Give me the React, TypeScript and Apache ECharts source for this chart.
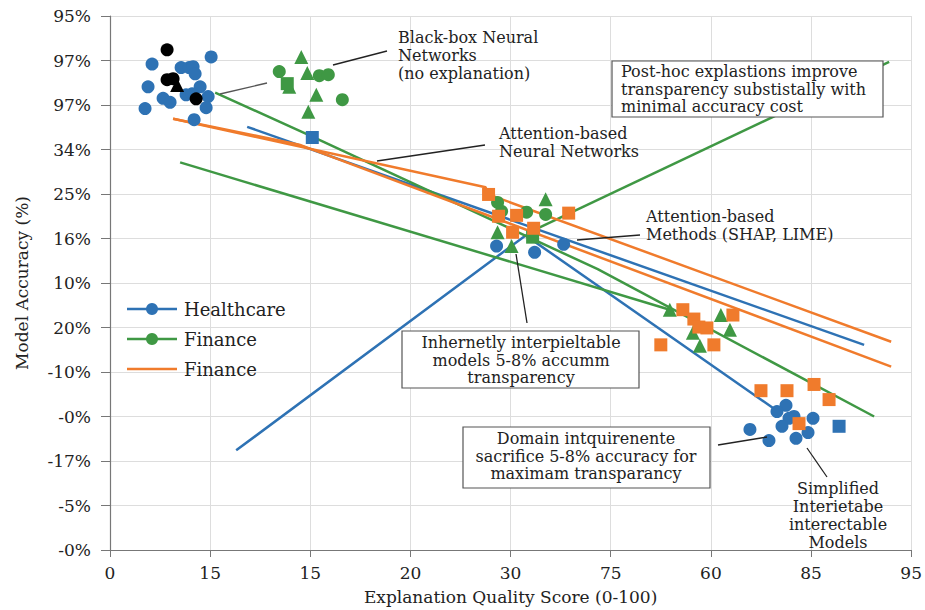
import React, { useEffect, useRef } from "react";
import * as echarts from "echarts";

// Axis tick labels (positions are index-based; labels as printed)
const xTickLabels = ["0", "15", "15", "20", "30", "75", "60", "85", "95"];
const yTickLabels = ["-0%", "-5%", "-17%", "-0%", "-10%", "20%", "10%", "16%", "25%", "34%", "97%", "97%", "95%"];

// Scatter points [x, y] in axis units
const healthcareBlackBox = [[0.42, 10.92], [0.71, 10.84], [0.79, 10.84], [0.83, 10.86], [0.85, 10.7], [1.01, 11.08], [0.38, 10.41], [0.9, 10.41], [0.53, 10.15], [0.6, 10.06], [0.76, 10.23], [0.82, 10.25], [0.98, 10.19], [0.35, 9.92], [0.96, 9.94], [0.84, 9.67]];
const healthcareAttention = [[3.86, 6.83], [4.24, 6.69], [4.53, 6.87]];
const healthcareSimplified = [[6.75, 3.25], [6.66, 3.11], [6.83, 3.0], [6.78, 2.96], [7.02, 2.96], [6.71, 2.78], [6.39, 2.71], [6.58, 2.46], [6.85, 2.51], [6.97, 2.64]];
const blackCircles = [[0.57, 11.24], [0.57, 10.57], [0.63, 10.59], [0.86, 10.14]];
const blackTriangles = [[0.67, 10.45]];
const financeCircles = [[1.69, 10.75], [2.09, 10.66], [2.18, 10.68], [2.32, 10.12], [3.87, 7.81], [3.91, 7.61], [4.16, 7.59], [4.35, 7.54]];
const financeTriangles = [[1.79, 10.41], [1.91, 11.08], [1.97, 10.72], [2.06, 10.23], [1.98, 9.85], [4.35, 7.88], [3.87, 7.14], [4.01, 6.83], [5.59, 5.4], [5.82, 4.88], [5.89, 4.59], [6.1, 5.28], [6.19, 4.95]];
const financeSquares = [[1.77, 10.48], [4.22, 7.03]];
const orangeSquares = [[3.78, 7.99], [3.88, 7.5], [4.06, 7.52], [4.58, 7.57], [4.02, 7.14], [4.23, 7.23], [5.72, 5.4], [5.83, 5.19], [5.88, 5.01], [5.96, 4.99], [6.03, 4.61], [5.5, 4.61], [6.22, 5.28], [6.5, 3.58], [6.76, 3.58], [7.03, 3.72], [7.18, 3.38], [6.88, 2.84]];
const blueSquares = [[2.02, 9.27], [7.28, 2.78]];

// Trend lines
const healthcareTrend = [[1.37, 9.51], [7.53, 4.61]];
const healthcareTradeoff = [[1.26, 2.24], [4.15, 7.07], [6.66, 3.13]];
const financeTrend = [[1.05, 10.28], [2.02, 9.29], [4.87, 6.31], [7.63, 3.0]];
const financeBaseline = [[0.7, 8.71], [5.59, 5.4]];
const financePosthoc = [[4.27, 7.23], [7.78, 10.97]];
const orangeTrendA = [[0.63, 9.69], [3.75, 8.15], [3.78, 7.99], [7.8, 4.68]];
const orangeTrendB = [[0.63, 9.69], [1.89, 9.11], [7.8, 4.12]];

const BLUE = "#2e72b4";
const GREEN = "#3f9844";
const ORANGE = "#f07b2c";
const FONT = '"DejaVu Serif", "Liberation Serif", serif';
const TXT = "#222";

const hGridValues = [12, 8, 6, 3];

export default function App() {
  const ref = useRef<HTMLDivElement>(null);
  useEffect(() => {
    if (!ref.current) return;
    const chart = echarts.init(ref.current, null, { renderer: "svg" });

    const lineSeries = (name: string, data: number[][], color: string) => ({
      name,
      type: "line",
      data,
      symbol: "none",
      z: 2,
      lineStyle: { color, width: 2.5 },
      itemStyle: { color },
      silent: true,
    });
    const scatter = (name: string, data: number[][], color: string, symbol: string, size: number) => ({
      name,
      type: "scatter",
      data,
      symbol,
      symbolSize: size,
      z: 3,
      itemStyle: { color, opacity: 1 },
      silent: true,
    });

    const arrows = [
      { from: [387, 51], to: [333, 65], c: "#222" },
      { from: [220, 94], to: [267, 83], c: "#555" },
      { from: [485, 145], to: [377, 161], c: "#222" },
      { from: [640, 235], to: [577, 240], c: "#222" },
      { from: [527, 323], to: [516, 254], c: "#222" },
      { from: [718, 445], to: [767, 437], c: "#222" },
      { from: [827, 477], to: [807, 448], c: "#222" },
    ];

    const text = (t: string, x: number, y: number, align: string, size = 16, lh = 18) => ({
      type: "text",
      x,
      y,
      z: 110,
      silent: true,
      style: { text: t, font: `${size}px ${FONT}`, fill: TXT, align, verticalAlign: "top", lineHeight: lh },
    });
    const box = (x: number, y: number, w: number, h: number) => ({
      type: "rect",
      z: 105,
      silent: true,
      shape: { x, y, width: w, height: h },
      style: { fill: "#fff", stroke: "#555", lineWidth: 1.2 },
    });
    const legendRow = (label: string, color: string, y: number, marker: boolean) => {
      const els: any[] = [
        { type: "line", z: 110, shape: { x1: 127, y1: y, x2: 177, y2: y }, style: { stroke: color, lineWidth: 2.5 } },
      ];
      if (marker) els.push({ type: "circle", z: 111, shape: { cx: 152, cy: y, r: 6 }, style: { fill: color } });
      els.push(text(label, 184, y - 10, "left", 18, 20));
      return els;
    };

    chart.setOption({
      animation: false,
      grid: { left: 110, right: 10, top: 16, bottom: 58 },
      xAxis: {
        type: "value",
        min: 0,
        max: 8,
        interval: 1,
        name: "Explanation Quality Score (0-100)",
        nameLocation: "middle",
        nameGap: 38,
        nameTextStyle: { fontFamily: FONT, fontSize: 17, color: TXT },
        axisLine: { show: true, lineStyle: { color: "#777", width: 1.2 } },
        axisTick: { show: true, length: 7, lineStyle: { color: "#777" } },
        axisLabel: {
          fontFamily: FONT,
          fontSize: 17,
          color: TXT,
          margin: 14,
          formatter: (v: number) => xTickLabels[Math.round(v)] ?? "",
        },
        splitLine: {
          show: true,
          interval: (_i: number, v: any) => Number(v) % 2 === 0 && Number(v) > 0,
          lineStyle: { color: "#ddd", width: 1 },
        },
      },
      yAxis: {
        type: "value",
        min: 0,
        max: 12,
        interval: 1,
        name: "Model Accuracy (%)",
        nameLocation: "middle",
        nameGap: 80,
        nameTextStyle: { fontFamily: FONT, fontSize: 17, color: TXT },
        axisLine: { show: true, lineStyle: { color: "#777", width: 1.2 } },
        axisTick: { show: true, length: 9, lineStyle: { color: "#777" } },
        axisLabel: {
          fontFamily: FONT,
          fontSize: 17,
          color: TXT,
          margin: 19,
          formatter: (v: number) => yTickLabels[Math.round(v)] ?? "",
        },
        splitLine: {
          show: true,
          interval: (_i: number, v: any) => hGridValues.includes(Number(v)),
          lineStyle: { color: "#ddd", width: 1 },
        },
      },
      series: [
        lineSeries("Healthcare trend", healthcareTrend, BLUE),
        lineSeries("Healthcare trade-off", healthcareTradeoff, BLUE),
        lineSeries("Finance trend", financeTrend, GREEN),
        lineSeries("Finance baseline", financeBaseline, GREEN),
        lineSeries("Finance post-hoc", financePosthoc, GREEN),
        lineSeries("Finance (orange) A", orangeTrendA, ORANGE),
        lineSeries("Finance (orange) B", orangeTrendB, ORANGE),
        scatter("Healthcare", [...healthcareBlackBox, ...healthcareAttention, ...healthcareSimplified], BLUE, "circle", 13),
        scatter("Healthcare squares", blueSquares, BLUE, "rect", 13),
        scatter("Finance", financeCircles, GREEN, "circle", 13),
        scatter("Finance triangles", financeTriangles, GREEN, "triangle", 14),
        scatter("Finance squares", financeSquares, GREEN, "rect", 13),
        scatter("Finance (orange)", orangeSquares, ORANGE, "rect", 13),
        scatter("Black-box", blackCircles, "#000", "circle", 13),
        {
          ...scatter("Black-box triangles", blackTriangles, "#000", "triangle", 14),
          markLine: {
            silent: true,
            symbol: ["none", "arrow"],
            symbolSize: [0, 9],
            label: { show: false },
            z: 120,
            data: arrows.map((a) => [
              { x: a.from[0], y: a.from[1], lineStyle: { color: a.c, width: 1.3, type: "solid" } },
              { x: a.to[0], y: a.to[1] },
            ]),
          },
        },
      ],
      graphic: [
        text("Black-box Neural\nNetworks\n(no explanation)", 398, 28, "left"),
        text("Attention-based\nNeural Networks", 499, 124, "left"),
        box(612, 61, 271, 56),
        text("Post-hoc explastions improve\ntransparency substistally with\nminimal accuracy cost", 621, 63, "left", 16, 17.5),
        text("Attention-based\nMethods (SHAP, LIME)", 646, 207, "left"),
        box(402, 331, 237, 57),
        text("Inhernetly interpieltable\nmodels 5-8% accumm\ntransparency", 521, 334, "center", 16, 17.5),
        box(463, 427, 247, 61),
        text("Domain intquirenente\nsacrifice 5-8% accuracy for\nmaximam transparancy", 586, 430, "center", 16, 17.5),
        text("Simplified\nInterietabe\ninterectable\nModels", 838, 479, "center", 16, 18),
        ...legendRow("Healthcare", BLUE, 309, true),
        ...legendRow("Finance", GREEN, 339, true),
        ...legendRow("Finance", ORANGE, 369, false),
      ],
    });
    return () => chart.dispose();
  }, []);
  return <div ref={ref} style={{ position: "absolute", left: 0, top: 0, width: 925, height: 610 }} />;
}
